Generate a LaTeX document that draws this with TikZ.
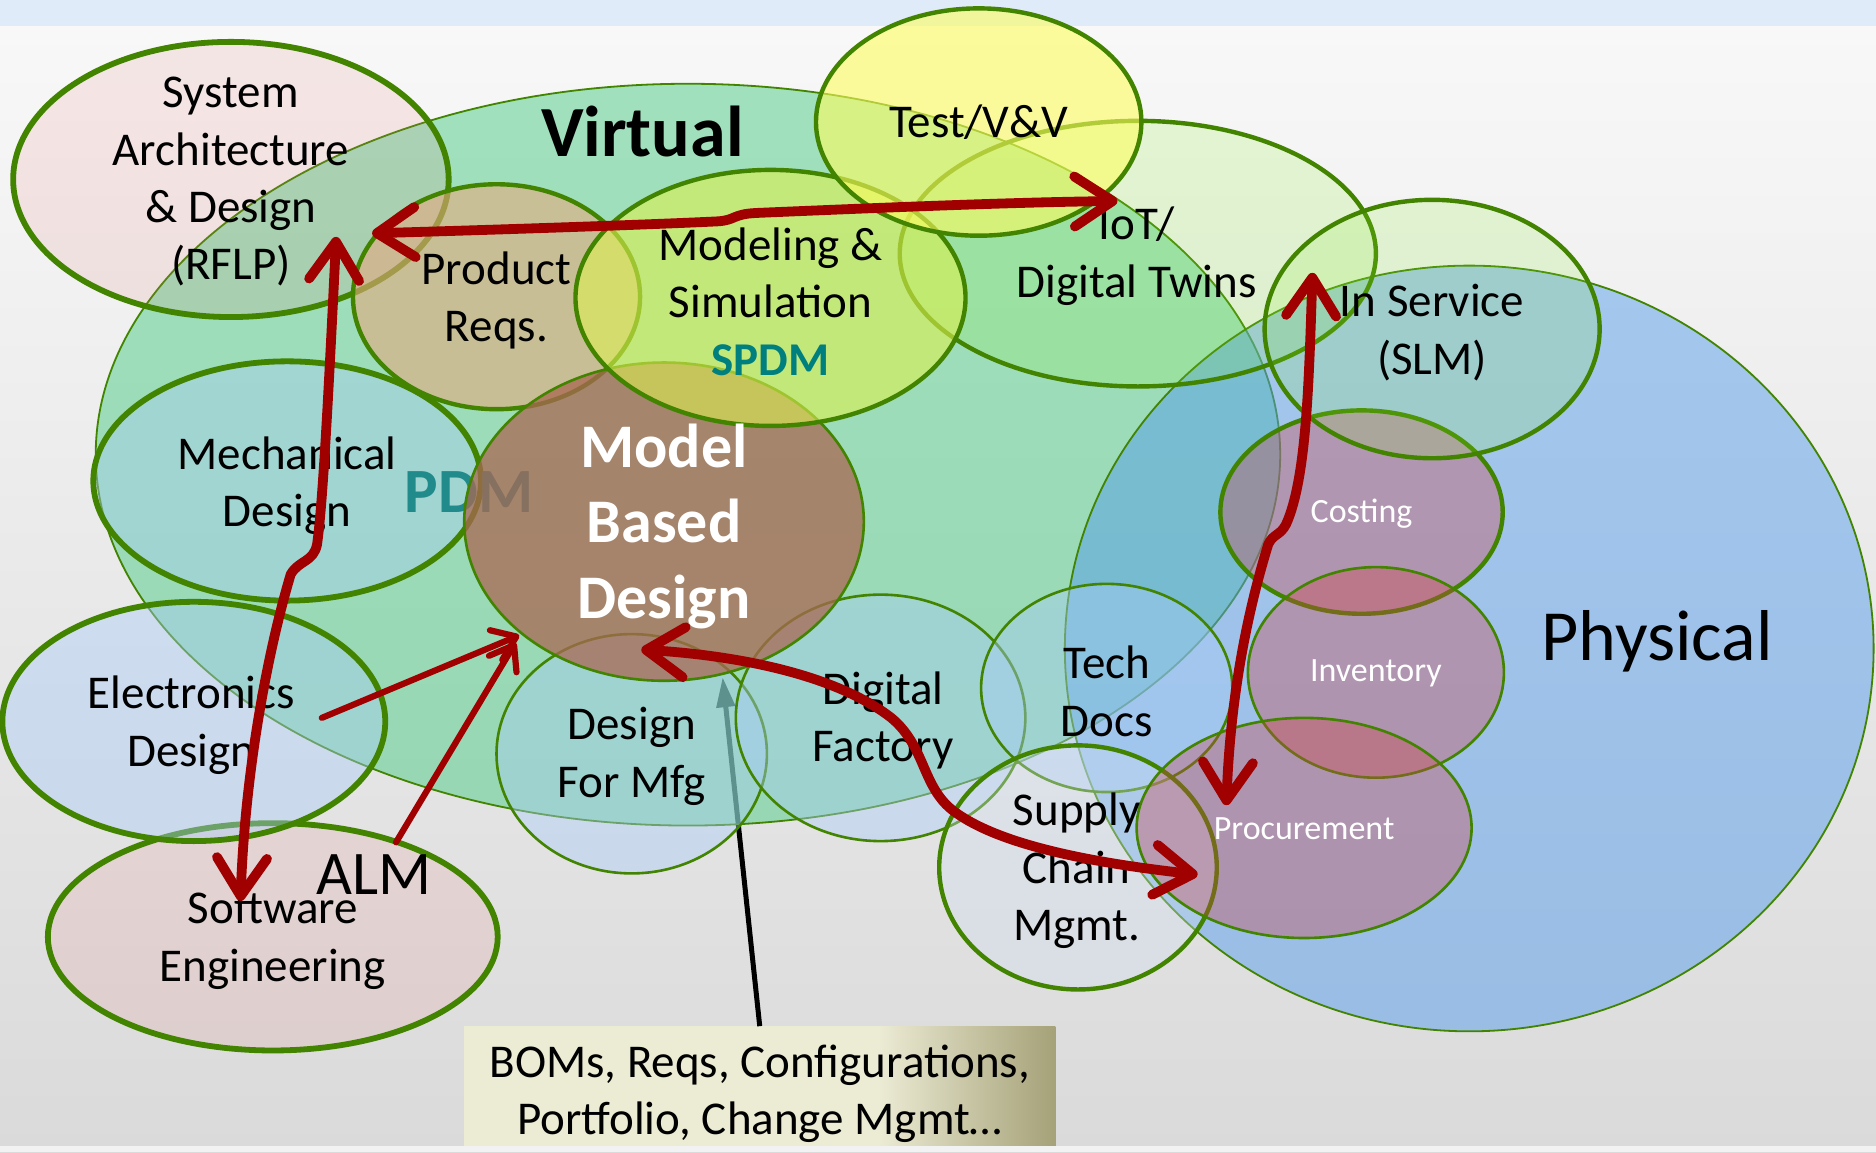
\documentclass[tikz,border=0pt]{standalone}
\usepackage{fontspec}
\setmainfont{Carlito}
\usetikzlibrary{arrows.meta}
\definecolor{bord}{HTML}{428300}
\definecolor{topband}{HTML}{DFEBF8}
\definecolor{bgtop}{HTML}{F8F8F8}
\definecolor{bgbot}{HTML}{DADADA}
\definecolor{virt}{HTML}{4CCC84}
\definecolor{phys}{HTML}{569EEA}
\definecolor{salmon}{HTML}{E98080}
\definecolor{lblue}{HTML}{A8CDF8}
\definecolor{prodc}{HTML}{E4AA7F}
\definecolor{modc}{HTML}{DCF050}
\definecolor{testc}{HTML}{FDFD5F}
\definecolor{limec}{HTML}{8CF02F}
\definecolor{mbdc}{HTML}{A96853}
\definecolor{supc}{HTML}{CFDFF0}
\definecolor{pinkc}{HTML}{D04247}
\definecolor{arrred}{HTML}{A00000}
\definecolor{spdmc}{HTML}{007F7F}
\definecolor{pdmc}{HTML}{218A8A}
\definecolor{bomcream}{HTML}{ECEBD4}
\definecolor{bomolive}{HTML}{A5A178}
\pgfdeclarehorizontalshading{bomshade}{100bp}{color(0bp)=(bomcream); color(25bp)=(bomcream); color(60bp)=(bomcream); color(75bp)=(bomolive); color(100bp)=(bomolive)}
\tikzset{
  bthick/.style={draw=bord,line width=2.9pt},
  bmed/.style={draw=bord,line width=2.2pt},
  bthin/.style={draw=bord,line width=1.3pt},
  bhair/.style={draw=bord,line width=0.9pt},
  lbl/.style={font=\fontsize{23.5}{28.7}\selectfont,align=center,inner sep=0pt,text=black},
  smlbl/.style={font=\fontsize{17}{20}\selectfont,text=white,inner sep=0pt},
  redline/.style={draw=arrred,line width=4.9pt,line cap=round,line join=round},
  dblarrow/.style={redline,{Straight Barb[length=19pt,width=25pt,round]}-{Straight Barb[length=19pt,width=25pt,round]}},
  onearrow/.style={draw=arrred,line width=3.1pt,line cap=round,-{Straight Barb[length=11pt,width=16pt,round]}},
  blkarrow/.style={draw=black,line width=2.5pt,-{Triangle[length=15pt,width=9pt]}}
}
\begin{document}
\begin{tikzpicture}[x=0.598pt,y=-0.598pt]
\useasboundingbox (0,0) rectangle (1568,963);
% background
\shade[top color=bgtop,bottom color=bgbot] (0,22) rectangle (1568,963);
\fill[topband] (0,0) rectangle (1568,22);
% info box
\node[shade,shading=bomshade,minimum width=295.4pt,minimum height=59.8pt,inner sep=0pt] (bombox) at (635,908) {};
\fill[white!95!black] (0,958) rectangle (1568,963);
\coordinate (gtip) at (604,566);
\draw[blkarrow] (bombox.north) -- (gtip);
% big regions
\coordinate (virtual) at (575,380);
\coordinate (physical) at (1228,542);
\filldraw[fill=virt,fill opacity=0.5,bhair] (virtual) ellipse [x radius=495,y radius=310];
\filldraw[fill=phys,fill opacity=0.5,bhair] (physical) ellipse [x radius=338,y radius=320];
% ellipses
\coordinate (sa) at (193,150);
\filldraw[fill=salmon,fill opacity=0.15,bthick] (sa) ellipse [x radius=182,y radius=115];
\coordinate (sw) at (228,783);
\filldraw[fill=salmon,fill opacity=0.15,bthick] (sw) ellipse [x radius=188,y radius=95];
\coordinate (el) at (162,603);
\filldraw[fill=lblue,fill opacity=0.42,bthick] (el) ellipse [x radius=160,y radius=100];
\coordinate (me) at (240,402);
\filldraw[fill=lblue,fill opacity=0.42,bthick] (me) ellipse [x radius=162,y radius=100];
\node[font=\fontsize{31.5}{36}\selectfont\bfseries,text=pdmc,inner sep=0pt] (pdm) at (392,411) {PDM};
\coordinate (pr) at (415,248);
\filldraw[fill=prodc,fill opacity=0.6,bmed] (pr) ellipse [x radius=120,y radius=94];
\coordinate (dfm) at (528,630);
\filldraw[fill=lblue,fill opacity=0.42,bthin] (dfm) ellipse [x radius=113,y radius=100];
\coordinate (df) at (736,600);
\filldraw[fill=lblue,fill opacity=0.42,bthin] (df) ellipse [x radius=121,y radius=103];
\coordinate (mbd) at (555,436);
\filldraw[fill=mbdc,fill opacity=0.75,bthin] (mbd) ellipse [x radius=167,y radius=133];
\coordinate (iot) at (951,212);
\filldraw[fill=limec,fill opacity=0.17,bmed] (iot) ellipse [x radius=199,y radius=111];
\coordinate (ms) at (644,249);
\filldraw[fill=modc,fill opacity=0.6,bmed] (ms) ellipse [x radius=163,y radius=107];
\coordinate (tv) at (818,102);
\filldraw[fill=testc,fill opacity=0.6,bmed] (tv) ellipse [x radius=136,y radius=95];
\coordinate (td) at (925,575);
\filldraw[fill=lblue,fill opacity=0.42,bthin] (td) ellipse [x radius=105,y radius=87];
\coordinate (sc) at (901,725);
\filldraw[fill=supc,fill opacity=0.35,bmed] (sc) ellipse [x radius=116,y radius=102];
\coordinate (co) at (1138,428);
\filldraw[fill=pinkc,fill opacity=0.35,bmed] (co) ellipse [x radius=118,y radius=85];
\coordinate (is) at (1197,275);
\filldraw[fill=limec,fill opacity=0.17,bmed] (is) ellipse [x radius=140,y radius=108];
\coordinate (inv) at (1150,562);
\filldraw[fill=pinkc,fill opacity=0.35,bthin] (inv) ellipse [x radius=107,y radius=88];
\coordinate (proc) at (1090,692);
\filldraw[fill=pinkc,fill opacity=0.35,bthin] (proc) ellipse [x radius=140,y radius=92];
% texts
\node[font=\fontsize{36}{40}\selectfont\bfseries,inner sep=0pt] (virtlbl) at (537,110) {Virtual};
\node[font=\fontsize{36}{40}\selectfont,inner sep=0pt] (physlbl) at (1385,536) {Physical};
\node[lbl] (satxt) at (193,152) {System\\Architecture\\\& Design\\(RFLP)};
\node[lbl] (prtxt) at (415,251) {Product\\Reqs.};
\node[lbl] (mstxt) at (644,252) {Modeling \&\\Simulation\\{\bfseries\color{spdmc}SPDM}};
\node[lbl] (tvtxt) at (818,102) {Test/V\&V};
\node[lbl] (iottxt) at (950,214) {IoT/\\Digital Twins};
\node[lbl] (istxt) at (1197,278) {In Service\\(SLM)};
\node[lbl] (metxt) at (240,406) {Mechanical\\Design};
\node[font=\fontsize{31}{37.7}\selectfont\bfseries,text=white,align=center,inner sep=0pt] (mbdtxt) at (555,440) {Model\\Based\\Design};
\node[lbl] (eltxt) at (160,606) {Electronics\\Design};
\node[lbl] (swtxt) at (228,786) {Software\\Engineering};
\node[font=\fontsize{31}{36}\selectfont,inner sep=0pt] (alm) at (313,731) {ALM};
\node[lbl] (dfmtxt) at (528,632) {Design\\For Mfg};
\node[lbl] (dftxt) at (738,602) {Digital\\Factory};
\node[lbl] (tdtxt) at (925,578) {Tech\\Docs};
\node[lbl] (sctxt) at (900,728) {Supply\\Chain\\Mgmt.};
\node[smlbl] (cotxt) at (1138,429) {Costing};
\node[smlbl] (invtxt) at (1150,563) {Inventory};
\node[smlbl] (proctxt) at (1090,693) {Procurement};
\node[lbl] (bomtxt) at (635,914) {BOMs, Reqs, Configurations,\\Portfolio, Change Mgmt…};
% red arrows
\coordinate (a1s) at (311,195);
\coordinate (a1e) at (934,168);
\draw[dblarrow] (a1s) .. controls (450,191) and (560,187) .. (600,185) .. controls (615,184) and (612,179) .. (632,178) .. controls (750,173) and (850,169) .. (a1e);
\coordinate (a2s) at (281,198);
\coordinate (a2e) at (201,753);
\draw[dblarrow] (a2s) .. controls (275,320) and (270,420) .. (265,455) .. controls (262,470) and (250,468) .. (243,480) .. controls (225,540) and (205,640) .. (a2e);
\coordinate (a3s) at (269,600);
\coordinate (a3e) at (434,531);
\draw[onearrow] (a3s) -- (a3e);
\coordinate (a4s) at (331,704);
\coordinate (a4e) at (431,537);
\draw[onearrow] (a4s) -- (a4e);
\coordinate (a5s) at (536,543);
\coordinate (a5e) at (1001,731);
\draw[dblarrow] (a5s) .. controls (620,548) and (700,565) .. (745,600) .. controls (775,625) and (770,660) .. (800,680) .. controls (840,708) and (920,722) .. (a5e);
\coordinate (a6s) at (1097,228);
\coordinate (a6e) at (1025,673);
\draw[dblarrow] (a6s) .. controls (1094,320) and (1092,400) .. (1075,438) .. controls (1070,448) and (1064,446) .. (1060,455) .. controls (1040,520) and (1028,590) .. (a6e);
\end{tikzpicture}
\end{document}
